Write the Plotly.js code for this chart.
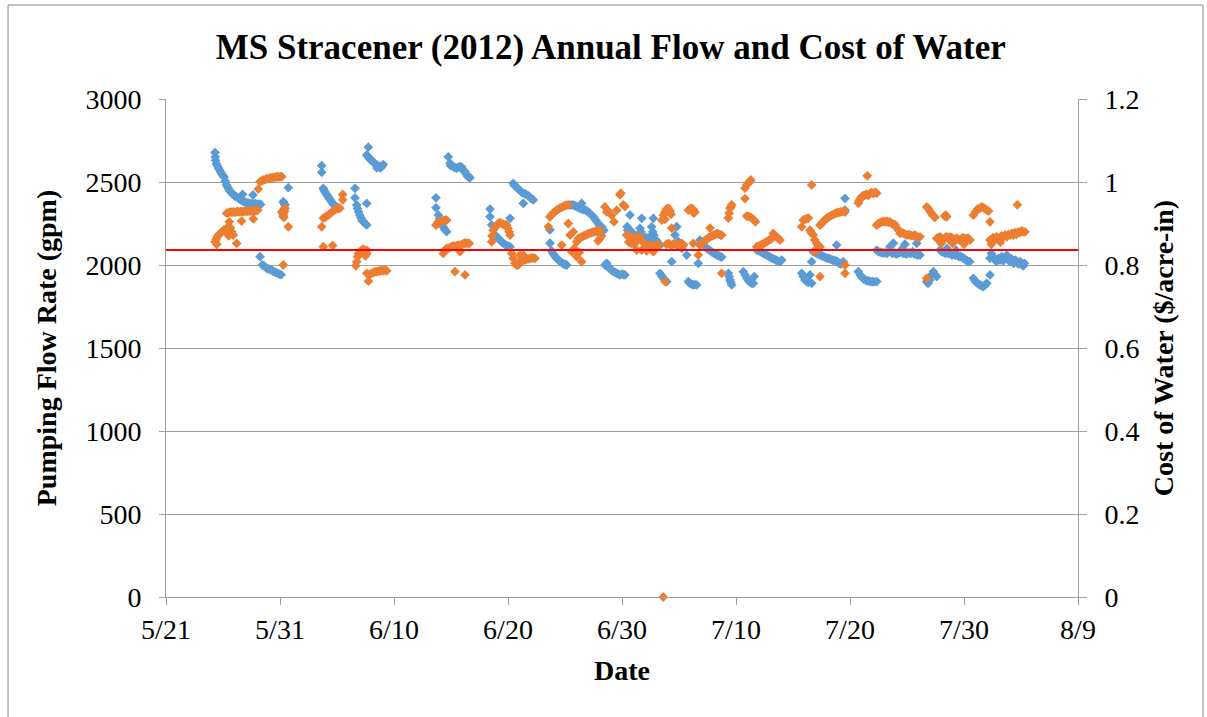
<!DOCTYPE html>
<html>
<head>
<meta charset="utf-8">
<script src="https://cdn.plot.ly/plotly-3.0.1.min.js"></script>
<style>html,body{margin:0;padding:0;background:#fff;}#chart{width:1207px;height:717px;}</style>
</head>
<body>
<div id="chart"></div>
<script>
// Day offsets are days after 2012-05-21.
const startDate = '2012-05-21';
const endDate = '2012-08-09';
const tickLabels = ['5/21','5/31','6/10','6/20','6/30','7/10','7/20','7/30','8/9'];

// Pumping flow rate readings: [day offset, gpm]
const flowReadings = [
 [4.30,2677],[4.32,2650],[4.35,2630],[4.42,2610],[4.50,2598],[4.60,2585],[4.70,2572],[4.80,2560],[4.90,2548],[5.00,2538],[5.10,2530],[5.20,2505],[5.30,2482],[5.40,2470],[5.50,2458],[5.60,2446],[5.70,2438],[5.80,2430],[5.90,2424],[6.00,2418],[6.10,2413],[6.20,2410],[6.35,2403],[6.50,2395],[6.65,2388],[6.80,2382],[6.95,2378],[7.10,2374],[7.25,2372],[7.40,2371],[7.55,2369],[7.70,2370],[7.85,2368],[8.00,2367],[8.15,2366],[8.30,2365],[6.72,2426],[7.63,2422],
 [8.25,2050],[8.45,2000],[8.60,1995],[8.75,1985],[8.90,1978],[9.05,1975],[9.20,1970],[9.35,1965],[9.50,1958],[9.65,1955],[9.80,1950],[9.95,1945],[10.10,1942],
 [10.73,2466],[10.29,2381],[10.35,2370],[10.44,2361],[10.38,2340],[10.32,2315],[10.29,2291],
 [13.66,2598],[13.66,2558],[13.80,2462],[13.85,2450],[13.95,2440],[14.05,2428],[14.15,2418],[14.25,2408],[14.35,2398],[14.45,2388],[14.55,2378],[14.65,2368],[14.75,2360],[14.85,2355],[14.97,2351],
 [16.58,2462],[16.58,2405],[17.61,2371],[16.73,2361],[16.80,2340],[16.90,2320],[17.00,2300],[17.10,2285],[17.20,2270],[17.30,2260],[17.45,2250],[17.61,2241],
 [17.75,2710],[17.61,2663],[17.70,2655],[17.80,2645],[17.90,2638],[18.00,2632],[18.10,2625],[18.20,2618],[18.33,2612],[18.45,2605],[18.55,2600],[18.65,2596],[18.75,2594],[18.92,2592],[19.06,2605],[18.50,2585],[18.80,2585],
 [24.76,2652],[24.91,2613],[24.95,2600],[25.10,2598],[25.25,2590],[25.40,2585],[25.50,2583],[25.65,2590],[25.80,2592],[25.94,2590],[26.05,2575],[26.15,2565],[26.23,2562],[26.35,2545],[26.45,2535],[26.55,2530],[26.67,2526],
 [23.68,2405],[23.68,2345],[23.89,2301],[24.00,2280],[24.10,2262],[24.20,2245],[24.30,2230],[24.45,2215],[24.62,2201],
 [28.42,2337],[28.42,2291],[28.57,2241],[28.86,2181],[29.00,2170],[29.15,2160],[29.30,2150],[29.45,2140],[29.60,2130],[29.75,2122],[29.90,2116],[30.05,2112],[30.18,2110],[30.18,2281],
 [30.46,2492],[30.55,2480],[30.65,2475],[30.75,2470],[30.85,2462],[30.95,2455],[31.05,2448],[31.15,2442],[31.25,2436],[31.34,2371],[31.45,2430],[31.60,2425],[31.75,2418],[31.90,2410],[32.05,2400],[32.22,2392],
 [33.68,2211],[33.68,2131],[33.83,2085],[33.95,2068],[34.10,2055],[34.25,2042],[34.40,2032],[34.55,2022],[34.70,2014],[34.85,2007],[35.00,2003],[35.15,2000],
 [35.44,2361],[35.60,2362],[35.75,2360],[35.90,2356],[36.05,2350],[36.20,2345],[36.35,2340],[36.50,2336],[36.65,2333],[36.80,2330],[36.95,2325],[37.10,2316],[37.25,2306],[37.40,2296],[37.55,2285],[37.70,2270],[37.85,2256],[38.00,2240],[38.15,2228],[38.30,2215],[38.40,2208],[36.46,2371],
 [38.22,2231],[38.51,2000],[38.66,2010],[38.80,1990],[38.95,1975],[39.10,1970],[39.24,1960],[39.40,1955],[39.54,1950],[39.70,1945],[39.82,1940],[40.00,1945],[40.15,1942],[40.26,1940],
 [40.70,2301],[40.45,2231],[40.50,2211],[40.60,2200],[40.75,2190],[40.85,2201],[40.95,2180],[41.10,2175],[41.25,2170],[41.40,2165],[41.58,2221],[41.73,2281],[41.65,2200],[41.80,2175],[41.95,2170],[42.10,2165],[42.30,2160],[42.46,2171],[42.75,2281],[42.60,2230],[42.70,2200],[42.80,2180],[42.89,2141],[43.00,2150],[43.10,2140],[43.20,2130],[43.33,2120],
 [43.33,1950],[43.48,1935],[43.62,1920],[43.77,1910],[43.92,1900],[44.36,2020],[44.80,2231],[44.65,2181],[44.94,2141],[45.10,2120],[45.25,2100],[45.68,2060],[46.69,2010],
 [45.82,1900],[45.95,1890],[46.10,1885],[46.25,1880],[46.40,1882],[46.55,1880],
 [46.84,2150],[47.00,2135],[47.15,2120],[47.30,2110],[47.45,2100],[47.60,2092],[47.75,2085],[47.90,2078],[48.05,2072],[48.20,2066],[48.35,2060],[48.50,2055],[48.65,2050],[48.75,2048],
 [49.33,1950],[49.40,1930],[49.47,1910],[49.55,1895],[49.62,1880],
 [50.64,1960],[50.80,1940],[50.95,1920],[51.10,1905],[51.25,1895],[51.40,1890],[51.52,1890],[51.60,1930],
 [51.82,2090],[52.00,2085],[52.15,2080],[52.30,2075],[52.45,2068],[52.60,2062],[52.75,2058],[52.90,2052],[53.05,2045],[53.20,2040],[53.35,2035],[53.50,2030],[53.65,2025],[53.86,2020],[54.01,2030],
 [55.76,1950],[55.90,1930],[56.05,1910],[56.20,1900],[56.35,1895],[56.49,1940],[56.64,1890],
 [56.78,2080],[56.64,2020],[56.95,2075],[57.10,2070],[57.25,2065],[57.40,2060],[57.55,2055],[57.70,2050],[57.85,2045],[58.00,2042],[58.15,2040],[58.30,2035],[58.45,2030],[58.60,2028],[58.75,2025],[58.83,2120],[58.90,2020],[59.05,2010],[59.20,2005],[59.41,2020],[59.56,2401],[59.56,2331],
 [60.73,1960],[60.90,1940],[61.05,1925],[61.20,1915],[61.35,1910],[61.50,1905],[61.65,1905],[61.80,1900],[61.95,1900],[62.10,1898],[62.34,1900],
 [62.34,2090],[62.50,2080],[62.65,2078],[62.80,2075],[62.95,2072],[63.10,2075],[63.25,2070],[63.40,2080],[63.55,2085],[63.70,2070],[63.80,2131],[63.90,2075],[64.05,2065],[64.20,2070],[64.35,2075],[64.50,2080],[64.65,2070],[64.82,2125],[64.90,2065],[65.05,2070],[65.20,2075],[65.35,2070],[65.50,2080],[65.65,2065],[65.85,2131],[65.90,2060],[66.00,2068],[66.14,2060],[63.50,2110],[64.60,2100],
 [66.73,1900],[66.85,1890],[67.00,1910],[67.15,1940],[67.31,1960],[67.45,1945],[67.60,1930],
 [67.89,2090],[68.05,2080],[68.20,2078],[68.35,2070],[68.50,2075],[68.65,2068],[68.80,2070],[68.95,2060],[69.10,2065],[69.25,2058],[69.40,2060],[69.55,2050],[69.70,2052],[69.85,2045],[70.00,2040],[70.15,2030],[70.30,2025],[70.50,2020],[68.50,2100],[69.30,2090],
 [70.82,1920],[70.95,1905],[71.10,1895],[71.25,1885],[71.40,1880],[71.55,1875],[71.69,1870],[71.85,1880],[72.00,1890],[72.28,1940],
 [72.28,2040],[72.40,2070],[72.55,2050],[72.70,2035],[72.85,2020],[73.00,2040],[73.16,2030],[73.30,2050],[73.45,2025],[73.60,2040],[73.75,2060],[73.90,2030],[74.05,2020],[74.20,2035],[74.35,2010],[74.50,2030],[74.65,2015],[74.80,2005],[74.95,2020],[75.10,2000],[75.20,1995],[75.30,2010]
];

// Cost of water readings: [day offset, $/acre-in]
const costReadings = [
 [4.30,0.856],[4.40,0.862],[4.50,0.868],[4.60,0.872],[4.74,0.876],[4.90,0.880],[5.05,0.884],[5.20,0.882],[5.32,0.880],[5.45,0.892],[5.55,0.904],[5.65,0.890],[5.76,0.880],[5.90,0.872],[6.20,0.852],[4.45,0.850],[5.50,0.870],
 [5.32,0.925],[5.50,0.926],[5.65,0.928],[5.80,0.927],[5.95,0.928],[6.10,0.927],[6.25,0.929],[6.40,0.928],[6.55,0.929],[6.70,0.928],[6.85,0.929],[7.00,0.930],[7.15,0.929],[7.30,0.930],[7.45,0.930],[7.60,0.931],[7.75,0.930],[7.90,0.931],[8.05,0.932],[6.63,0.906],[7.66,0.911],
 [8.10,0.983],[8.25,1.001],[8.40,1.003],[8.55,1.005],[8.70,1.006],[8.85,1.008],[9.00,1.008],[9.15,1.010],[9.30,1.010],[9.45,1.012],[9.60,1.011],[9.75,1.013],[9.90,1.012],[10.05,1.013],[10.15,1.013],
 [10.73,0.892],[10.15,0.928],[10.22,0.925],[10.29,0.920],[10.35,0.915],[10.44,0.937],[10.40,0.930],[10.29,0.800],
 [13.66,0.892],[13.80,0.913],[13.95,0.915],[14.10,0.918],[14.25,0.921],[14.40,0.924],[14.55,0.928],[14.70,0.931],[14.85,0.934],[15.00,0.935],[15.15,0.937],[15.26,0.937],[15.50,0.970],[15.50,0.957],[13.80,0.844],[14.62,0.847],
 [16.65,0.798],[16.73,0.808],[16.80,0.820],[16.90,0.828],[17.05,0.832],[17.17,0.836],[17.30,0.838],[17.45,0.834],[17.50,0.822],[17.60,0.836],[17.61,0.828],
 [17.61,0.780],[17.75,0.761],[17.90,0.778],[18.05,0.780],[18.20,0.782],[18.35,0.784],[18.50,0.784],[18.65,0.786],[18.80,0.786],[18.95,0.787],[19.10,0.786],[19.25,0.788],[19.36,0.786],
 [23.68,0.896],[23.80,0.900],[23.90,0.904],[24.04,0.904],[24.20,0.906],[24.35,0.907],[24.50,0.908],[24.62,0.908],
 [24.32,0.828],[24.45,0.836],[24.62,0.840],[24.76,0.840],[24.90,0.842],[25.05,0.844],[25.20,0.846],[25.35,0.845],[25.50,0.846],[25.65,0.848],[25.79,0.832],[25.85,0.848],[26.00,0.850],[26.15,0.852],[26.30,0.853],[26.45,0.852],[26.60,0.852],[25.35,0.784],[26.23,0.776],
 [28.57,0.856],[28.60,0.870],[28.71,0.884],[28.86,0.890],[29.00,0.895],[29.15,0.900],[29.30,0.902],[29.45,0.900],[29.60,0.898],[29.75,0.897],[29.89,0.896],[30.00,0.888],[30.10,0.880],[30.18,0.872],
 [30.32,0.828],[30.45,0.816],[30.61,0.804],[30.75,0.800],[30.90,0.800],[31.05,0.808],[31.20,0.810],[31.34,0.812],[31.50,0.812],[31.65,0.814],[31.80,0.815],[31.95,0.816],[32.10,0.817],[32.25,0.817],[32.37,0.816],[31.34,0.824],[31.05,0.824],
 [33.54,0.892],[33.68,0.916],[33.80,0.920],[33.95,0.925],[34.10,0.928],[34.25,0.932],[34.40,0.934],[34.55,0.937],[34.70,0.939],[34.85,0.941],[35.00,0.943],[35.15,0.944],[35.29,0.945],
 [35.29,0.900],[35.44,0.872],[34.71,0.848],[35.73,0.880],[36.03,0.856],[35.59,0.832],[35.80,0.840],[36.03,0.820],[36.46,0.808],[36.17,0.864],[36.35,0.866],[36.50,0.868],[36.65,0.870],[36.80,0.872],[36.95,0.874],[37.10,0.876],[37.25,0.877],[37.40,0.879],[37.55,0.880],[37.70,0.881],[37.85,0.882],[38.07,0.884],[38.07,0.864],[37.90,0.858],[36.25,0.830],
 [38.20,0.870],[38.50,0.940],[38.66,0.928],[38.80,0.930],[39.10,0.920],[39.30,0.904],[39.54,0.932],[39.82,0.969],[40.11,0.945],[39.90,0.973],[40.26,0.941],
 [40.41,0.872],[40.55,0.870],[40.60,0.855],[40.70,0.868],[40.85,0.852],[41.00,0.866],[41.05,0.850],[41.15,0.868],[41.29,0.836],[41.45,0.860],[41.58,0.868],[41.73,0.836],[41.87,0.856],[42.00,0.850],[42.17,0.834],[42.31,0.845],[42.46,0.848],[42.60,0.840],[42.75,0.832],[42.90,0.845],[43.05,0.850],[43.18,0.848],[43.77,0.760],
 [43.50,0.908],[43.62,0.920],[43.77,0.928],[43.92,0.935],[44.07,0.937],[44.21,0.930],[44.30,0.922],[44.36,0.889],[43.77,0.910],
 [43.90,0.850],[44.10,0.852],[44.30,0.848],[44.50,0.850],[44.65,0.852],[44.80,0.848],[44.94,0.846],[45.10,0.850],[45.25,0.852],[45.40,0.848],
 [45.82,0.932],[45.96,0.935],[46.10,0.937],[46.25,0.934],[46.40,0.928],[46.30,0.925],[46.25,0.852],[46.69,0.824],
 [46.84,0.848],[47.00,0.852],[47.13,0.856],[47.30,0.860],[47.45,0.862],[47.60,0.866],[47.72,0.889],[47.75,0.868],[47.90,0.870],[48.05,0.872],[48.20,0.874],[48.35,0.876],[48.50,0.874],[48.65,0.872],[48.75,0.872],[48.75,0.780],
 [49.33,0.913],[49.40,0.925],[49.47,0.937],[49.55,0.940],[49.62,0.945],
 [50.79,0.960],[50.79,0.985],[50.94,0.993],[51.10,0.998],[51.23,1.001],[51.30,1.005],
 [50.94,0.918],[51.10,0.917],[51.30,0.915],[51.52,0.910],[51.70,0.904],
 [51.82,0.844],[52.00,0.846],[52.15,0.848],[52.30,0.850],[52.45,0.852],[52.60,0.855],[52.75,0.857],[52.90,0.860],[53.05,0.862],[53.20,0.866],[53.27,0.876],[53.40,0.870],[53.55,0.868],[53.70,0.865],[53.86,0.860],
 [55.76,0.892],[55.90,0.908],[56.05,0.910],[56.20,0.912],[56.35,0.913],[56.49,0.884],[56.60,0.878],[56.78,0.872],[56.90,0.860],[57.08,0.852],[57.20,0.846],[57.37,0.844],[56.93,0.832],[57.37,0.772],[56.64,0.993],
 [57.37,0.896],[57.50,0.900],[57.65,0.905],[57.80,0.908],[57.96,0.913],[58.10,0.915],[58.25,0.918],[58.40,0.920],[58.55,0.922],[58.70,0.924],[58.85,0.926],[59.00,0.926],[59.15,0.928],[59.30,0.928],[59.45,0.930],[59.56,0.928],[59.56,0.800],[59.56,0.780],
 [60.73,0.949],[60.80,0.955],[60.90,0.960],[61.03,0.965],[61.15,0.967],[61.30,0.968],[61.45,0.970],[61.60,0.968],[61.75,0.972],[61.90,0.975],[62.05,0.972],[62.20,0.975],[62.34,0.973],[61.52,1.015],
 [62.34,0.896],[62.50,0.900],[62.65,0.902],[62.80,0.904],[62.95,0.905],[63.10,0.904],[63.22,0.906],[63.35,0.903],[63.50,0.904],[63.65,0.900],[63.80,0.898],[63.95,0.897],[64.10,0.890],[64.25,0.884],[64.39,0.876],[64.55,0.878],[64.70,0.876],[64.85,0.874],[65.00,0.872],[65.15,0.873],[65.26,0.872],[65.40,0.871],[65.55,0.870],[65.70,0.872],[65.85,0.869],[66.00,0.866],[66.14,0.868],
 [66.73,0.940],[66.90,0.935],[67.05,0.928],[67.20,0.922],[67.31,0.918],[67.45,0.915],[68.30,0.918],[68.48,0.916],[68.40,0.920],[66.73,0.768],
 [67.60,0.864],[67.75,0.866],[67.89,0.868],[68.05,0.865],[68.20,0.862],[68.35,0.866],[68.50,0.868],[68.65,0.862],[68.77,0.868],[68.90,0.866],[69.05,0.864],[69.20,0.860],[69.35,0.865],[69.50,0.862],[69.65,0.860],[69.80,0.864],[69.95,0.866],[70.10,0.862],[70.24,0.864],[70.38,0.864],[70.53,0.860],[68.00,0.852],[69.00,0.852],[70.00,0.850],
 [70.82,0.920],[71.00,0.928],[71.20,0.935],[71.40,0.937],[71.55,0.940],[71.70,0.938],[71.85,0.935],[72.00,0.932],[72.15,0.930],[72.28,0.904],[74.68,0.945],
 [72.28,0.860],[72.40,0.862],[72.55,0.866],[72.70,0.862],[72.85,0.868],[73.00,0.865],[73.16,0.864],[73.30,0.870],[73.45,0.868],[73.60,0.872],[73.75,0.868],[73.90,0.874],[74.05,0.872],[74.20,0.876],[74.32,0.872],[74.45,0.878],[74.60,0.874],[74.75,0.880],[74.90,0.878],[75.05,0.882],[75.20,0.880],[75.35,0.880],[72.40,0.850],[73.20,0.855],
 [43.62,0.000]
];

// Reference flow level (red line), gpm
const thresholdFlow = 2090;

const baseMs = Date.UTC(2012, 4, 21);
function toDate(d) {
  return new Date(baseMs + d * 86400000).toISOString().replace('T', ' ').slice(0, 19);
}

const serif = 'Liberation Serif, Times New Roman, serif';
const gray = '#a0a0a0';

const traces = [
  {
    type: 'scatter', mode: 'markers', name: 'Flow (gpm)',
    x: flowReadings.map(p => toDate(p[0])), y: flowReadings.map(p => p[1]),
    marker: {symbol: 'diamond', size: 7.5, color: '#5B9BD5'},
    yaxis: 'y', cliponaxis: false
  },
  {
    type: 'scatter', mode: 'markers', name: 'Cost ($/acre-in)',
    x: costReadings.map(p => toDate(p[0])), y: costReadings.map(p => p[1]),
    marker: {symbol: 'diamond', size: 7.5, color: '#ED7D31'},
    yaxis: 'y2', cliponaxis: false
  }
];

const layout = {
  width: 1207, height: 717,
  margin: {l: 166, r: 129, t: 99, b: 120},
  paper_bgcolor: '#fff', plot_bgcolor: '#fff',
  showlegend: false,
  font: {family: serif, size: 28, color: '#000'},
  title: {text: '<b>MS Stracener (2012) Annual Flow and Cost of Water</b>', font: {family: serif, size: 35, color: '#000'},
          x: 0.506, xref: 'container', xanchor: 'center', y: 0.935, yref: 'container', yanchor: 'middle'},
  xaxis: {
    type: 'date', range: [startDate, endDate],
    tickmode: 'array',
    tickvals: tickLabels.map((t, i) => toDate(i * 10)), ticktext: tickLabels,
    showgrid: false, zeroline: false,
    showline: true, linecolor: gray, linewidth: 1,
    ticks: 'outside', ticklen: 7, tickcolor: gray, tickwidth: 1,
    tickfont: {family: serif, size: 28, color: '#000'},
    title: {text: '<b>Date</b>', font: {family: serif, size: 28, color: '#000'}, standoff: 16}
  },
  yaxis: {
    range: [0, 3000], dtick: 500, tick0: 0,
    showgrid: true, gridcolor: gray, gridwidth: 1,
    zeroline: false,
    showline: true, linecolor: gray, linewidth: 1,
    ticks: 'outside', ticklen: 6, tickcolor: gray,
    tickfont: {family: serif, size: 28, color: '#000'},
    ticklabelstandoff: 12,
    title: {text: '<b>Pumping Flow Rate (gpm)</b>', font: {family: serif, size: 28, color: '#000'}, standoff: 20}
  },
  yaxis2: {
    overlaying: 'y', side: 'right',
    range: [0, 1.2], dtick: 0.2, tick0: 0,
    showgrid: false, zeroline: false,
    showline: true, linecolor: gray, linewidth: 1,
    ticks: 'outside', ticklen: 8, tickcolor: gray,
    tickfont: {family: serif, size: 28, color: '#000'},
    ticklabelstandoff: 12,
    title: {text: '<b>Cost of Water ($/acre-in)</b>', font: {family: serif, size: 28, color: '#000'}, standoff: 14}
  },
  shapes: [
    {type: 'line', xref: 'paper', x0: 0, x1: 1, yref: 'y', y0: thresholdFlow, y1: thresholdFlow,
     line: {color: '#ff0000', width: 2}, layer: 'above'},
    {type: 'rect', xref: 'paper', yref: 'paper', x0: -0.1732, x1: 1.1371, y0: -0.245, y1: 1.1888,
     line: {color: '#888', width: 1}, fillcolor: 'rgba(0,0,0,0)', layer: 'below'}
  ]
};

Plotly.newPlot('chart', traces, layout, {displayModeBar: false, staticPlot: true});
</script>
</body>
</html>
